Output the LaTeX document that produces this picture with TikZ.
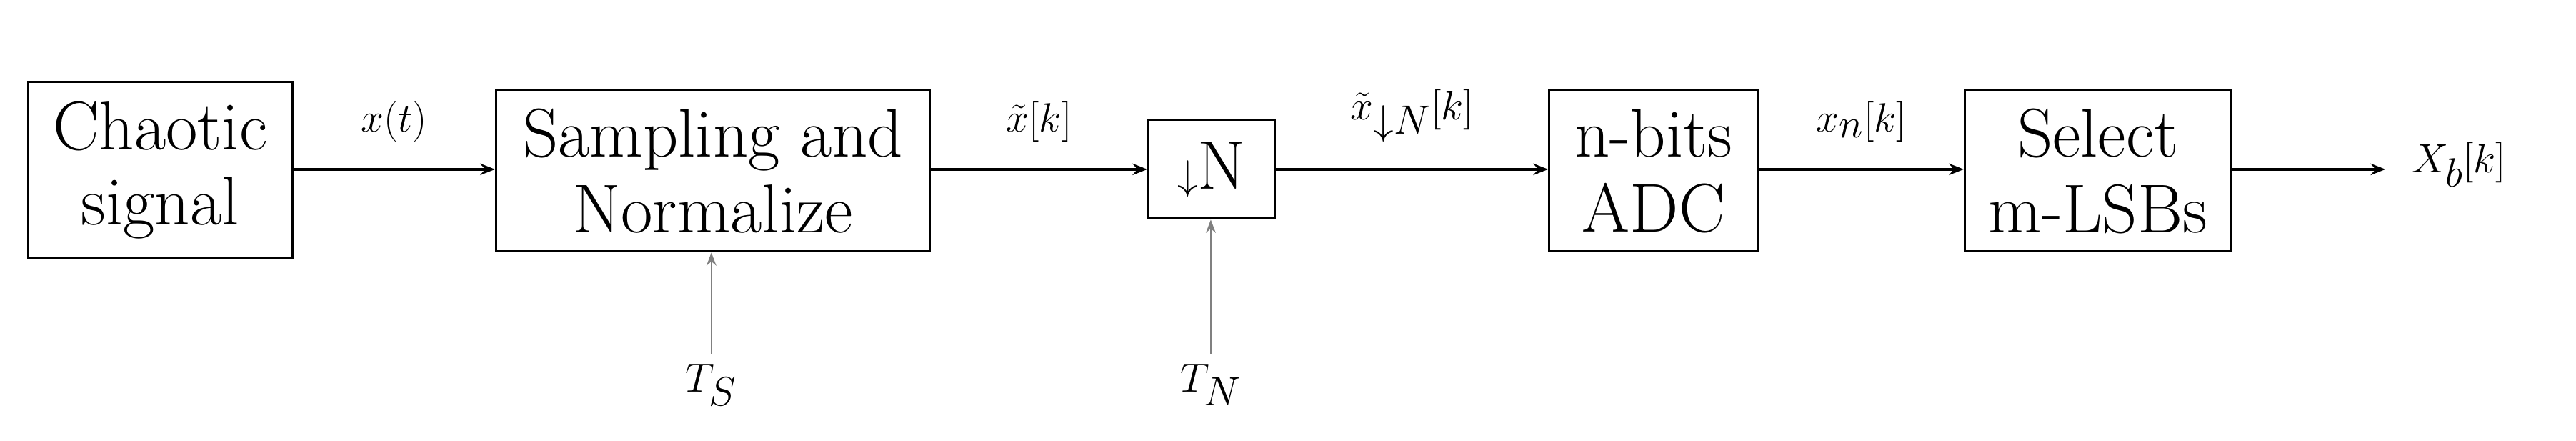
\documentclass[tikz,border=0pt]{standalone}
\usetikzlibrary{arrows.meta}
\begin{document}
\begin{tikzpicture}[x=1pt,y=-1pt,
  blk/.style={draw,line width=1.3pt,inner sep=0pt,align=center,font=\fontsize{42}{46}\selectfont},
  lbl/.style={font=\fontsize{42}{46}\selectfont,inner sep=0pt},
  sig/.style={line width=1.5pt,-{Stealth[length=9pt,width=7pt]}},
  clk/.style={line width=1pt,gray,-{Stealth[length=8pt,width=6pt]}}]
\useasboundingbox (0,0) rectangle (1568,268);
\node[blk,minimum width=161pt,minimum height=107pt] (a) at (97.5,103.5) {Chaotic\\signal};
\node[blk,minimum width=264pt,minimum height=98pt] (b) at (434,104) {Sampling and\\Normalize};
\node[blk,minimum width=77pt,minimum height=60pt] (c) at (737.5,103) {$\downarrow$N};
\node[blk,minimum width=127pt,minimum height=98pt] (d) at (1006.5,104) {n-bits\\ADC};
\node[blk,minimum width=162pt,minimum height=98pt] (e) at (1277,104) {Select\\m-LSBs};
\coordinate (out) at (1452,103);
\node[lbl,anchor=west] (xb) at (1468,100) {$X_b[k]$};
\node[lbl] (ts) at (433,234) {$T_S$};
\node[lbl] (tn) at (737,234) {$T_N$};
\draw[sig] (a.east|-0,103) -- (b.west|-0,103) node[lbl,midway,above=16pt] (l1) {$x(t)$};
\draw[sig] (b.east|-0,103) -- (c.west|-0,103) node[lbl,midway,above=16pt] (l2) {$\tilde{x}[k]$};
\draw[sig] (c.east|-0,103) -- (d.west|-0,103) node[lbl,midway,above=16pt] (l3) {$\tilde{x}_{\downarrow N}[k]$};
\draw[sig] (d.east|-0,103) -- (e.west|-0,103) node[lbl,midway,above=16pt] (l4) {$x_n[k]$};
\draw[sig] (e.east|-0,103) -- (out);
\draw[clk] (ts.north) ++(0,-6) -- (b.south-|ts);
\draw[clk] (tn.north) ++(0,-6) -- (c.south-|tn);
\end{tikzpicture}
\end{document}
